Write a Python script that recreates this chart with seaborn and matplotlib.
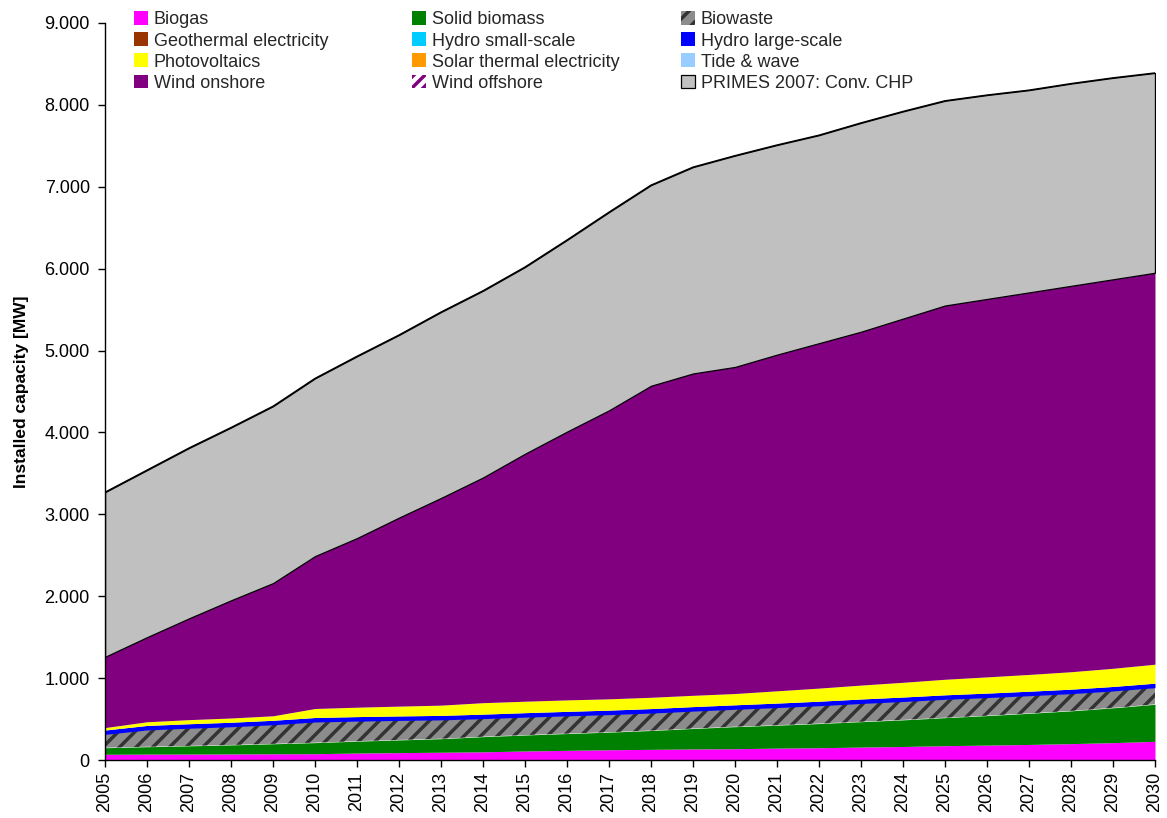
import matplotlib
matplotlib.use("Agg")
import numpy as np
import pandas as pd
import seaborn as sns
import matplotlib.pyplot as plt
from matplotlib.legend import Legend
from matplotlib.ticker import FuncFormatter, MultipleLocator

# ---------------- data (MW) ----------------
years = list(range(2005, 2031))
biogas = [70, 72, 73, 74, 76, 77, 85, 90, 95, 100, 110, 118, 125, 130, 135, 138,
          145, 150, 158, 165, 175, 182, 190, 200, 212, 228]
solid_biomass = [80, 90, 100, 110, 122, 135, 145, 155, 165, 185, 195, 205, 215, 230,
                 250, 269, 280, 295, 310, 325, 342, 360, 380, 400, 425, 452]
biowaste = [163, 205, 215, 222, 232, 252, 245, 238, 230, 220, 218, 216, 214, 213,
            212, 212, 215, 218, 222, 224, 224, 220, 215, 210, 206, 203]
geothermal = [0] * 26
hydro_small = [0] * 26
hydro_large = [53, 55, 55, 55, 55, 55, 55, 55, 55, 55, 55, 55, 55, 55, 55, 55,
               55, 55, 55, 55, 55, 55, 55, 55, 55, 55]
photovoltaics = [30, 45, 50, 52, 55, 110, 115, 120, 125, 140, 140, 140, 138, 138,
                 138, 138, 150, 160, 170, 180, 190, 198, 205, 213, 222, 232]
solar_thermal = [0] * 26
tide_wave = [0] * 26
wind_onshore = [864, 1033, 1237, 1437, 1620, 1861, 2065, 2302, 2530, 2750, 3022,
                3276, 3523, 3804, 3930, 3988, 4105, 4212, 4315, 4441, 4564, 4615,
                4665, 4712, 4750, 4780]
wind_offshore = [0] * 26
conv_chp = [2010, 2040, 2080, 2110, 2160, 2170, 2220, 2230, 2270, 2280, 2280, 2340,
            2420, 2450, 2520, 2580, 2560, 2540, 2550, 2530, 2500, 2490, 2470, 2470,
            2460, 2440]

labels = ["Biogas", "Solid biomass", "Biowaste", "Geothermal electricity",
          "Hydro small-scale", "Hydro large-scale", "Photovoltaics",
          "Solar thermal electricity", "Tide & wave", "Wind onshore",
          "Wind offshore", "PRIMES 2007: Conv. CHP"]
series = [biogas, solid_biomass, biowaste, geothermal, hydro_small, hydro_large,
          photovoltaics, solar_thermal, tide_wave, wind_onshore, wind_offshore,
          conv_chp]

styles = [
    dict(facecolor="#FF00FF", linewidth=0),
    dict(facecolor="#008000", linewidth=0),
    dict(facecolor="#8C8C8C", edgecolor="#333333", hatch="//", linewidth=0),
    dict(facecolor="#993300", linewidth=0),
    dict(facecolor="#00CCFF", linewidth=0),
    dict(facecolor="#0000FF", linewidth=0),
    dict(facecolor="#FFFF00", linewidth=0),
    dict(facecolor="#FF9900", linewidth=0),
    dict(facecolor="#99CCFF", linewidth=0),
    dict(facecolor="#800080", linewidth=0),
    dict(facecolor="white", edgecolor="#800080", hatch="///", linewidth=0),
    dict(facecolor="#C0C0C0", edgecolor="black", linewidth=0.9),
]

# ---------------- figure ----------------
sns.set_theme(style="white")
plt.rcParams["font.family"] = ["Liberation Sans", "DejaVu Sans"]
plt.rcParams["hatch.linewidth"] = 2.5

fig = plt.figure(figsize=(11.67, 8.18), dpi=100)
ax = fig.add_axes([0.09, 0.0709, 0.8997, 0.9010])

df = pd.DataFrame(dict(zip(labels, series)), index=years)
base = np.zeros(len(years))
handles = []
for lab, st in zip(labels, styles):
    top = base + df[lab].to_numpy()
    h = ax.fill_between(years, base, top, label=lab, **st)
    handles.append(h)
    base = top

total = pd.DataFrame({"year": years, "total": base})
sns.lineplot(data=total, x="year", y="total", color="black", linewidth=1.0, ax=ax,
             legend=False)

ax.set_xlim(2005, 2030)
ax.set_ylim(0, 9000)
ax.yaxis.set_major_locator(MultipleLocator(1000))
ax.yaxis.set_major_formatter(FuncFormatter(lambda v, _: f"{int(v):,}".replace(",", ".")))
ax.set_xticks(years)
ax.set_xticklabels([str(y) for y in years], rotation=90)
ax.tick_params(axis="both", which="major", bottom=True, left=True, direction="out",
               length=5, width=1, color="black", labelsize=13, labelcolor="black")
ax.tick_params(axis="y", pad=6)
ax.set_xlabel("")
ax.set_ylabel("Installed capacity [MW]", fontsize=12.5, fontweight="bold",
              labelpad=11, color="black")
sns.despine(ax=ax)
for s in ("left", "bottom"):
    ax.spines[s].set_color("black")
    ax.spines[s].set_linewidth(1)

# three-column legend laid out row by row
cols = [[0, 3, 6, 9], [1, 4, 7, 10], [2, 5, 8, 11]]
xs = [0.0276, 0.2924, 0.5486]
for idx, x0 in zip(cols, xs):
    leg = Legend(ax, [handles[i] for i in idx], [labels[i] for i in idx],
                 loc="upper left", bbox_to_anchor=(x0, 1.016), frameon=False,
                 borderaxespad=0, borderpad=0, fontsize=13,
                 handlelength=0.75, handleheight=0.8, handletextpad=0.35,
                 labelspacing=0.22)
    ax.add_artist(leg)

fig.savefig("out.png", dpi=100)
